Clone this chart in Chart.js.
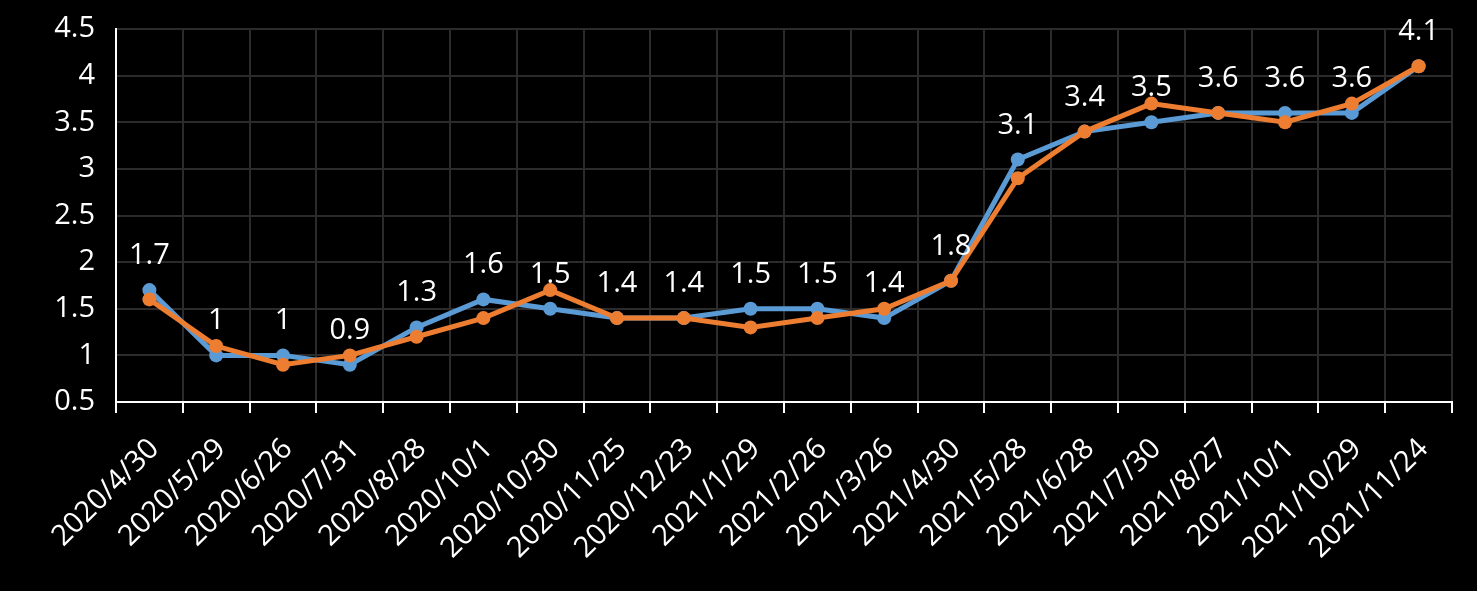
<!DOCTYPE html>
<html>
<head>
<meta charset="utf-8">
<script src="https://cdn.jsdelivr.net/npm/chart.js@4.4.1/dist/chart.umd.min.js"></script>
<style>
  html, body { margin: 0; padding: 0; background: #000; }
  #wrap { width: 1477px; height: 591px; position: relative; }
</style>
</head>
<body>
<div id="wrap"><canvas id="chart"></canvas></div>
<script>
const dates = [
  '2020/4/30', '2020/5/29', '2020/6/26', '2020/7/31', '2020/8/28',
  '2020/10/1', '2020/10/30', '2020/11/25', '2020/12/23', '2021/1/29',
  '2021/2/26', '2021/3/26', '2021/4/30', '2021/5/28', '2021/6/28',
  '2021/7/30', '2021/8/27', '2021/10/1', '2021/10/29', '2021/11/24'
];
const blueValues = [1.7, 1.0, 1.0, 0.9, 1.3, 1.6, 1.5, 1.4, 1.4, 1.5, 1.5, 1.4, 1.8, 3.1, 3.4, 3.5, 3.6, 3.6, 3.6, 4.1];
const orangeValues = [1.6, 1.1, 0.9, 1.0, 1.2, 1.4, 1.7, 1.4, 1.4, 1.3, 1.4, 1.5, 1.8, 2.9, 3.4, 3.7, 3.6, 3.5, 3.7, 4.1];

const FONT = "'Open Sans', 'Noto Sans', sans-serif";
const BLUE = '#5b9bd5';
const ORANGE = '#ed7d31';

// values printed above the blue line
const valueLabels = {
  id: 'valueLabels',
  afterDatasetsDraw(chart) {
    const meta = chart.getDatasetMeta(0);
    const ctx = chart.ctx;
    ctx.save();
    ctx.font = '29px ' + FONT;
    ctx.fillStyle = '#fff';
    ctx.textAlign = 'center';
    ctx.textBaseline = 'alphabetic';
    meta.data.forEach((pt, i) => {
      ctx.fillText(String(blueValues[i]), pt.x, pt.y - 26);
    });
    ctx.restore();
  }
};

new Chart(document.getElementById('chart'), {
  type: 'line',
  data: {
    labels: dates,
    datasets: [
      {
        label: 'blue',
        data: blueValues,
        borderColor: BLUE,
        backgroundColor: BLUE,
        borderWidth: 5,
        pointRadius: 7,
        pointBorderWidth: 0,
        pointBackgroundColor: BLUE,
        tension: 0,
        order: 1
      },
      {
        label: 'orange',
        data: orangeValues,
        borderColor: ORANGE,
        backgroundColor: ORANGE,
        borderWidth: 5,
        pointRadius: 7,
        pointBorderWidth: 0,
        pointBackgroundColor: ORANGE,
        tension: 0,
        order: 0
      }
    ]
  },
  options: {
    responsive: true,
    maintainAspectRatio: false,
    animation: false,
    layout: { padding: { top: 29, right: 25, left: 0, bottom: 0 } },
    plugins: { legend: { display: false }, tooltip: { enabled: false } },
    scales: {
      x: {
        offset: true,
        grid: { offset: true, color: '#2b2b2b', lineWidth: 2, tickColor: '#fff', tickLength: 11 },
        border: { color: '#fff', width: 2 },
        ticks: {
          color: '#fff',
          font: { family: FONT, size: 29 },
          autoSkip: false,
          maxRotation: 45,
          minRotation: 45,
          padding: 19,
          labelOffset: 5
        },
        afterFit(scale) {
          scale.height = 189;
          scale.paddingLeft = 0;
          scale.paddingRight = 0;
        }
      },
      y: {
        min: 0.5,
        max: 4.5,
        grid: { color: '#2b2b2b', lineWidth: 2, drawTicks: false },
        border: { color: '#fff', width: 2 },
        ticks: {
          stepSize: 0.5,
          color: '#fff',
          font: { family: FONT, size: 29 },
          padding: 21,
          callback: v => String(+v.toFixed(1))
        },
        afterFit(scale) {
          scale.width = 116;
          scale.paddingTop = 0;
          scale.paddingBottom = 0;
        }
      }
    }
  },
  plugins: [valueLabels]
});
</script>
</body>
</html>
